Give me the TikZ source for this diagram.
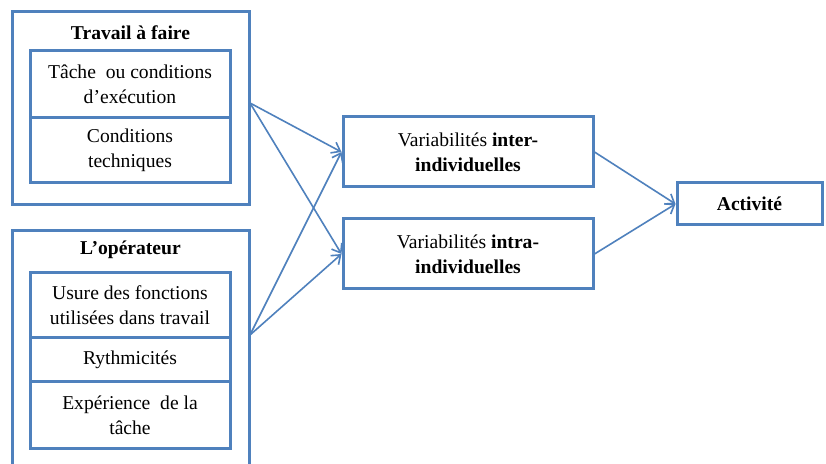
\documentclass[tikz,border=0pt]{standalone}
\usepackage{fontspec}
\setmainfont{Liberation Serif}
\usetikzlibrary{arrows.meta,positioning}
\definecolor{boxblue}{RGB}{79,129,189}
\tikzstyle{frame}=[
	rectangle,
	line width=1.5pt,
	draw=boxblue,
	fill=white,
	inner sep=0pt,
	align=center,
	font=\fontsize{9.8}{12.5}\selectfont
]
\tikzstyle{flow}=[
	->,
	>={Straight Barb[length=4pt,width=6pt]},
	line width=0.8pt,
	draw=boxblue
]

\begin{document}
\begin{tikzpicture}[x=0.5pt,y=-0.5pt]
\clip (0,0) rectangle (826,464);
\fill[white] (0,0) rectangle (826,464);
% left column
\node [frame, minimum width=118.5pt, minimum height=96.5pt] (Travail) at (130.5,108.5) {};
\node [font=\fontsize{9.8}{12.5}\selectfont\bfseries] (TravailTitle) at (130.5,33) {Travail à faire};
\node [frame, minimum width=100pt, minimum height=33.5pt] (Tache) at (130,84.5) {Tâche~ ou conditions\\d’exécution};
\node [frame, minimum width=100pt, minimum height=32.5pt] (Techniques) at (130,150.5) {Conditions\\techniques};
\node [frame, minimum width=118.5pt, minimum height=125pt] (Operateur) at (130.5,356) {};
\node [font=\fontsize{9.8}{12.5}\selectfont\bfseries] (OperateurTitle) at (130.5,250) {L’opérateur};
\node [frame, minimum width=100pt, minimum height=32.5pt] (Usure) at (130,305.5) {Usure des fonctions\\utilisées dans travail};
\node [frame, minimum width=100pt, minimum height=22pt] (Rythmicites) at (130,360) {Rythmicités};
\node [frame, minimum width=100pt, minimum height=33.5pt] (Experience) at (130,415.5) {Expérience~ de la\\tâche};
% middle and right
\node [frame, minimum width=125pt, minimum height=35pt] (Inter) at (468,152) {Variabilités \textbf{inter-}\\\textbf{individuelles}};
\node [frame, minimum width=125pt, minimum height=35pt] (Intra) at (468,254) {Variabilités \textbf{intra-}\\\textbf{individuelles}};
\node [frame, minimum width=72.5pt, minimum height=21pt] (Activite) at (749.5,204) {\textbf{Activité}};
\coordinate (TravailOut) at (250,103);
\coordinate (OperateurOut) at (250,335);
\draw [flow] (TravailOut) -- (Inter.west);
\draw [flow] (TravailOut) -- (Intra.west);
\draw [flow] (OperateurOut) -- (Inter.west);
\draw [flow] (OperateurOut) -- (Intra.west);
\draw [flow] (Inter.east) -- (Activite.west);
\draw [flow] (Intra.east) -- (Activite.west);
\end{tikzpicture}
\end{document}
